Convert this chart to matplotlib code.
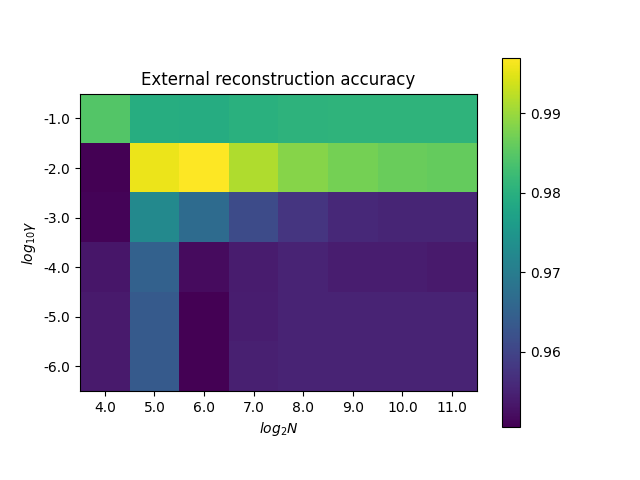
import numpy as np
import matplotlib
matplotlib.use('Agg')
import matplotlib.pyplot as plt

log2_n = [4.0, 5.0, 6.0, 7.0, 8.0, 9.0, 10.0, 11.0]
log10_gamma = [-1.0, -2.0, -3.0, -4.0, -5.0, -6.0]

# accuracy per (gamma, N)
acc_g1 = [0.9845, 0.9795, 0.9793, 0.9800, 0.9805, 0.9808, 0.9808, 0.9808]
acc_g2 = [0.9505, 0.9956, 0.9970, 0.9914, 0.9886, 0.9872, 0.9864, 0.9860]
acc_g3 = [0.9510, 0.9724, 0.9668, 0.9612, 0.9577, 0.9558, 0.9553, 0.9553]
acc_g4 = [0.9533, 0.9649, 0.9519, 0.9540, 0.9552, 0.9543, 0.9543, 0.9538]
acc_g5 = [0.9538, 0.9637, 0.9505, 0.9542, 0.9552, 0.9552, 0.9552, 0.9552]
acc_g6 = [0.9538, 0.9637, 0.9505, 0.9545, 0.9552, 0.9552, 0.9552, 0.9552]


def main():
    acc = np.array([acc_g1, acc_g2, acc_g3, acc_g4, acc_g5, acc_g6])

    fig, ax = plt.subplots(figsize=(6.4, 4.8), dpi=100)
    im = ax.imshow(acc, cmap='viridis')
    fig.colorbar(im, ax=ax)

    ax.set_xticks(range(len(log2_n)))
    ax.set_xticklabels([f'{v:.1f}' for v in log2_n])
    ax.set_yticks(range(len(log10_gamma)))
    ax.set_yticklabels([f'{v:.1f}' for v in log10_gamma])

    ax.set_title('External reconstruction accuracy')
    ax.set_xlabel('$log_2N$')
    ax.set_ylabel('$log_{10}\\gamma$')

    fig.savefig('out.png')


if __name__ == '__main__':
    main()
